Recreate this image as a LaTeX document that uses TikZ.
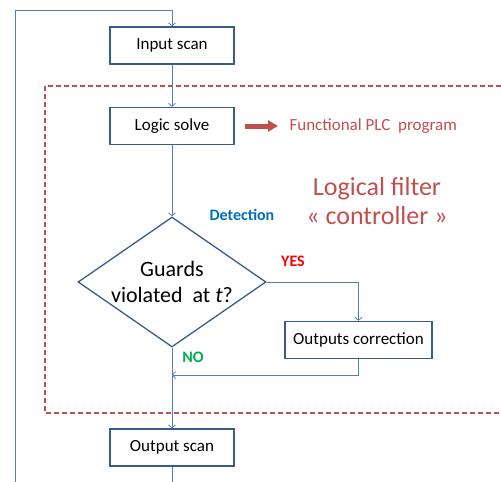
\documentclass[tikz,border=0pt]{standalone}
\usepackage{fontspec}
\setmainfont{Carlito}
\usetikzlibrary{shapes.geometric,arrows.meta}
\definecolor{boxblue}{HTML}{385D8A}
\definecolor{lineblue}{HTML}{4F81BD}
\definecolor{filterred}{HTML}{C0504D}
\definecolor{detblue}{HTML}{0070C0}
\definecolor{nogreen}{HTML}{00B050}

\begin{document}
\begin{tikzpicture}[x=1pt,y=-1pt,
	stage/.style={draw=boxblue, line width=1.3pt, minimum width=124pt, minimum height=37pt, inner sep=0pt, font=\fontsize{17}{20}\selectfont},
	guard/.style={draw=boxblue, line width=1.3pt, diamond, aspect=1.45, minimum width=188pt, minimum height=130pt, inner sep=-3pt, align=center, font=\fontsize{22}{26}\selectfont},
	flow/.style={draw=lineblue, line width=0.8pt, -{Straight Barb[length=3pt,width=7pt]}},
	tag/.style={font=\bfseries\fontsize{16}{18}\selectfont}]
	\useasboundingbox (0,0) rectangle (501,482);
	\draw[filterred, line width=1.3pt, dash pattern=on 5pt off 3pt] (45,86) rectangle (510,413);
	
	\node[stage] (in) at (172,45.5) {Input scan};
	\node[stage] (solve) at (172,126) {Logic solve};
	\node[guard] (guard) at (172,282) {Guards\\violated\ \ at \textit{t}?};
	\node[stage, minimum width=147pt] (corr) at (358.5,340) {Outputs correction};
	\node[stage] (out) at (172,447.5) {Output scan};
	
	\node[text=filterred, anchor=west, font=\fontsize{17}{20}\selectfont] (prog) at (286,126) {Functional PLC\ \ program};
	\node[text=filterred, align=center, font=\fontsize{26}{29}\selectfont] (filter) at (377,201) {Logical filter\\« controller »};
	\node[tag, text=detblue] (det) at (242,215) {Detection};
	\node[tag, text=red] (yes) at (293,261) {YES};
	\node[tag, text=nogreen] (no) at (193,357) {NO};
	
	\coordinate (loopbr) at (172,495);
	\coordinate (loopbl) at (15,495);
	\coordinate (looptl) at (15,10);
	\coordinate (merge) at (172,375);
	
	\draw[flow] (out.south) -- (loopbr) -- (loopbl) -- (looptl) -| (in.north);
	\draw[flow] (in) -- (solve);
	\draw[flow] (solve) -- (guard);
	\draw[flow] (guard.east) -| (corr.north);
	\draw[flow] (corr.south) |- (merge);
	\draw[flow] (guard.south) -- (out.north);
	
	\draw[filterred, line width=5pt, -{Triangle[length=10pt,width=11pt]}] ([xshift=10pt]solve.east) -- ([xshift=-8pt]prog.west);
\end{tikzpicture}
\end{document}
